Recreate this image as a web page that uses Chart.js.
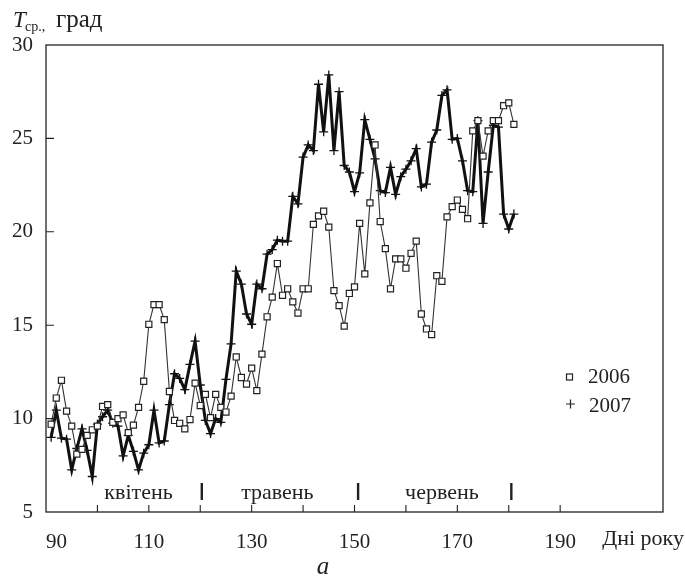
<!DOCTYPE html>
<html>
<head>
<meta charset="utf-8">
<script src="https://cdn.jsdelivr.net/npm/chart.js@4.4.0/dist/chart.umd.min.js"></script>
<style>
    html, body { margin: 0; padding: 0; background: #fff; }
    #wrap { width: 685px; height: 581px; }
</style>
</head>
<body>
<div id="wrap"><canvas id="tempChart"></canvas></div>
<script>
// days of year, 1 April .. 30 June
const days = [
    91, 92, 93, 94, 95, 96, 97, 98, 99, 100,
    101, 102, 103, 104, 105, 106, 107, 108, 109, 110,
    111, 112, 113, 114, 115, 116, 117, 118, 119, 120,
    121, 122, 123, 124, 125, 126, 127, 128, 129, 130,
    131, 132, 133, 134, 135, 136, 137, 138, 139, 140,
    141, 142, 143, 144, 145, 146, 147, 148, 149, 150,
    151, 152, 153, 154, 155, 156, 157, 158, 159, 160,
    161, 162, 163, 164, 165, 166, 167, 168, 169, 170,
    171, 172, 173, 174, 175, 176, 177, 178, 179, 180,
    181
];

const temp2006 = [
    9.7, 11.1, 12.05, 10.4, 9.6, 8.1, 8.35, 9.1, 9.4, 9.6,
    10.65, 10.75, 9.8, 10.0, 10.2, 9.25, 9.65, 10.6, 12.0, 15.05,
    16.1, 16.1, 15.3, 11.45, 9.9, 9.75, 9.45, 9.95, 11.9, 10.7,
    11.3, 10.05, 11.3, 10.6, 10.35, 11.2, 13.3, 12.2, 11.85, 12.7,
    11.5, 13.45, 15.45, 16.5, 18.3, 16.6, 16.95, 16.25, 15.65, 16.95,
    16.95, 20.4, 20.85, 21.1, 20.25, 16.85, 16.05, 14.95, 16.7, 17.05,
    20.45, 17.75, 21.55, 24.65, 20.55, 19.1, 16.95, 18.55, 18.55, 18.05,
    18.85, 19.5, 15.6, 14.8, 14.5, 17.65, 17.35, 20.8, 21.35, 21.7,
    21.2, 20.7, 25.4, 25.95, 24.05, 25.4, 25.95, 25.95, 26.75, 26.9,
    25.75
];

const temp2007 = [
    9.0, 10.45, 8.95, 8.9, 7.25, 8.4, 9.45, 8.3, 6.9, 9.7,
    10.1, 10.45, 9.75, 9.6, 8.0, 9.1, 8.25, 7.25, 8.15, 8.6,
    10.45, 8.7, 8.8, 10.75, 12.4, 12.15, 11.55, 12.9, 14.15, 11.8,
    9.9, 9.2, 10.0, 9.8, 12.1, 14.0, 17.9, 17.2, 15.6, 15.05,
    17.2, 16.95, 18.8, 19.05, 19.55, 19.5, 19.5, 21.9, 21.5, 24.0,
    24.65, 24.35, 27.9, 25.35, 28.4, 24.35, 27.5, 23.55, 23.2, 22.15,
    23.15, 26.0, 24.95, 23.9, 22.2, 22.1, 23.45, 22.0, 22.95, 23.35,
    23.8, 24.45, 22.4, 22.55, 24.8, 25.45, 27.3, 27.6, 24.95, 25.0,
    23.8, 22.2, 22.15, 25.95, 20.45, 23.2, 25.7, 25.6, 20.95, 20.15,
    20.95
];

const xLabels = [90, 110, 130, 150, 170, 190];
const xMarks = [100, 110, 120, 130, 140, 150, 160, 170, 180, 190];
const yMarks = [10, 15, 20, 25];
const months = ["квітень", "травень", "червень"];
const monthCenters = [108, 135, 167];
const monthEnds = [120.3, 150.7, 180.5];

const serif = "'Liberation Serif', 'DejaVu Serif', serif";
const ink = "#222";

function toPoints(ys) {
    return days.map((d, i) => ({ x: d, y: ys[i] }));
}

// frame, inward ticks, month strip
const framePlugin = {
    id: "frame",
    afterDatasetsDraw(chart) {
        const { ctx, chartArea: a, scales } = chart;
        ctx.save();
        ctx.strokeStyle = ink;
        ctx.lineWidth = 1.3;
        ctx.strokeRect(a.left, a.top, a.right - a.left, a.bottom - a.top);

        ctx.lineWidth = 1.1;
        ctx.beginPath();
        yMarks.forEach(v => {
            const y = scales.y.getPixelForValue(v);
            ctx.moveTo(a.left, y);
            ctx.lineTo(a.left + 8, y);
        });
        xMarks.forEach(v => {
            const x = scales.x.getPixelForValue(v);
            ctx.moveTo(x, a.bottom);
            ctx.lineTo(x, a.bottom - 7);
        });
        ctx.stroke();

        // month boundaries
        ctx.lineWidth = 2.4;
        ctx.beginPath();
        monthEnds.forEach(v => {
            const x = scales.x.getPixelForValue(v);
            ctx.moveTo(x, a.bottom - 29);
            ctx.lineTo(x, a.bottom - 12);
        });
        ctx.stroke();

        ctx.fillStyle = ink;
        ctx.font = "22px " + serif;
        ctx.textAlign = "center";
        ctx.textBaseline = "middle";
        months.forEach((m, i) => {
            ctx.fillText(m, scales.x.getPixelForValue(monthCenters[i]), a.bottom - 19);
        });
        ctx.restore();
    },
    afterDraw(chart) {
        const { ctx } = chart;
        ctx.save();
        ctx.fillStyle = ink;
        ctx.textBaseline = "alphabetic";
        ctx.textAlign = "left";

        // y axis title
        ctx.font = "italic 23px " + serif;
        ctx.fillText("T", 13, 27);
        ctx.font = "14px " + serif;
        ctx.fillText("ср.,", 25, 31);
        ctx.font = "25px " + serif;
        ctx.fillText("град", 56, 27);

        // x axis title
        ctx.font = "22px " + serif;
        ctx.textAlign = "right";
        ctx.fillText("Дні року", 684, 545);

        // caption
        ctx.font = "italic 25px " + serif;
        ctx.textAlign = "center";
        ctx.fillText("a", 323, 574);

        // legend
        ctx.strokeStyle = ink;
        ctx.lineWidth = 1.2;
        ctx.fillStyle = "#fff";
        ctx.fillRect(566.5, 374, 6, 6);
        ctx.strokeRect(566.5, 374, 6, 6);
        ctx.beginPath();
        ctx.moveTo(566, 404); ctx.lineTo(575, 404);
        ctx.moveTo(570.5, 399.5); ctx.lineTo(570.5, 408.5);
        ctx.stroke();
        ctx.fillStyle = ink;
        ctx.font = "21px " + serif;
        ctx.textAlign = "left";
        ctx.textBaseline = "middle";
        ctx.fillText("2006", 588, 377);
        ctx.fillText("2007", 589, 406);
        ctx.restore();
    }
};

new Chart(document.getElementById("tempChart"), {
    type: "line",
    data: {
        datasets: [
            {
                label: "2006",
                data: toPoints(temp2006),
                borderColor: "#333",
                borderWidth: 1.1,
                pointStyle: "rect",
                pointRadius: 4.3,
                pointBackgroundColor: "#fff",
                pointBorderColor: "#222",
                pointBorderWidth: 1.2,
                tension: 0
            },
            {
                label: "2007",
                data: toPoints(temp2007),
                borderColor: "#111",
                borderWidth: 3,
                pointStyle: "cross",
                pointRadius: 4.5,
                pointBorderColor: "#111",
                pointBorderWidth: 1.3,
                tension: 0
            }
        ]
    },
    options: {
        responsive: true,
        maintainAspectRatio: false,
        animation: false,
        layout: { padding: { top: 45, right: 22, left: 0, bottom: 0 } },
        plugins: {
            legend: { display: false },
            tooltip: { enabled: false }
        },
        scales: {
            x: {
                type: "linear",
                min: 90,
                max: 210,
                grid: { display: false, drawTicks: false },
                border: { display: false },
                ticks: {
                    stepSize: 10,
                    autoSkip: false,
                    maxRotation: 0,
                    padding: 18,
                    color: ink,
                    font: { family: serif, size: 21 },
                    // the first label sits just right of the frame
                    callback: v => {
                        if (!xLabels.includes(v)) return "";
                        return v === 90 ? "\u2002\u200290" : String(v);
                    }
                },
                afterFit: s => { s.height = 69; }
            },
            y: {
                min: 5,
                max: 30,
                grid: { display: false, drawTicks: false },
                border: { display: false },
                ticks: {
                    stepSize: 5,
                    padding: 13,
                    color: ink,
                    font: { family: serif, size: 21 }
                },
                afterFit: s => { s.width = 46; }
            }
        }
    },
    plugins: [framePlugin]
});
</script>
</body>
</html>
